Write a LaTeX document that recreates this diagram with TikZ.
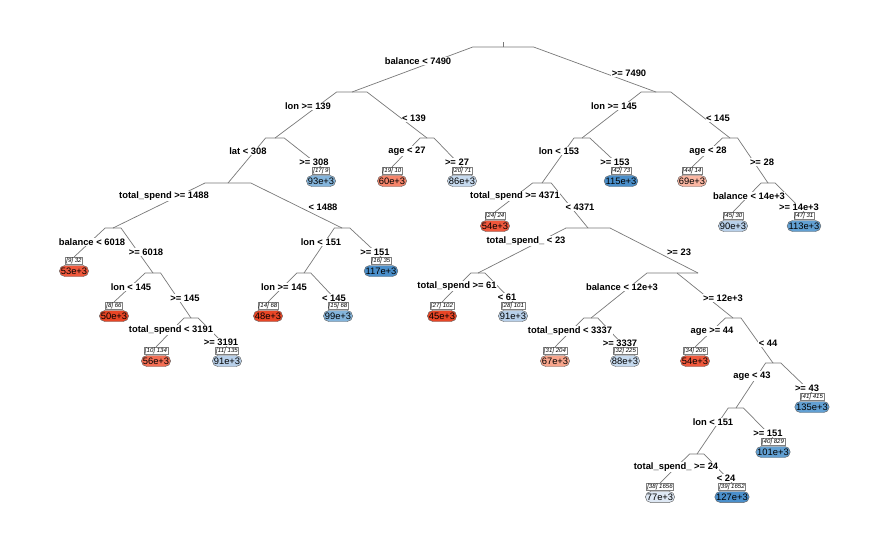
\documentclass[tikz,border=0pt]{standalone}
\usepackage{fontspec}
\setmainfont{Liberation Sans}
\usetikzlibrary{calc}
\definecolor{branchgrey}{RGB}{120,120,120}
\definecolor{red1}{RGB}{233,70,38}
\definecolor{red2}{RGB}{239,88,60}
\definecolor{red3}{RGB}{243,110,84}
\definecolor{red4}{RGB}{245,132,106}
\definecolor{red5}{RGB}{248,165,140}
\definecolor{red6}{RGB}{250,182,162}
\definecolor{blue1}{RGB}{222,232,244}
\definecolor{blue2}{RGB}{198,218,239}
\definecolor{blue3}{RGB}{184,208,234}
\definecolor{blue4}{RGB}{132,181,220}
\definecolor{blue5}{RGB}{98,160,211}
\definecolor{blue6}{RGB}{74,143,203}

\begin{document}
\begin{tikzpicture}[x=0.03cm, y=-0.03cm,
  branch/.style={draw=branchgrey, line width=0.6pt},
  split/.style={fill=white, inner sep=0.4pt, font=\bfseries\fontsize{8}{9}\selectfont},
  numbox/.style={draw=gray, fill=white, inner xsep=0.8pt, inner ysep=0.4pt,
                 font=\itshape\fontsize{5.2}{6}\selectfont},
  leaf/.style={draw=gray!80!black, rounded corners=4.6pt, minimum height=9.4pt,
               inner xsep=1.2pt, inner ysep=0pt, font=\fontsize{8}{9}\selectfont}]
  \useasboundingbox (0,0) rectangle (889,549);
  % split points
  \foreach \n/\x/\y in {root/503/47, lon139/352/92, lon145/656/92,
      lat308/275/138, age27/427/138, lon153/582/138, age28/730/138,
      ts1488/228/183, ts4371/542/183, bal14/768/183,
      bal6018/113/228, lon151/342/228, tsu23/588/228,
      lon145b/153/273, lon145c/304/273, ts61/478/273, bal12/698/273,
      ts3191/191/318, ts3337/591/318, age44/733/318,
      age43/773/363, lon151b/736/408, tsu24/697/454}
    \coordinate (\n) at (\x,\y);
  \coordinate (top) at (503,42);
  \coordinate (bal12l) at (647,273);
  \coordinate (bal12r) at (677,273);
  % leaf tops
  \foreach \n/\x/\y in {17/321/181, 19/392/181, 20/462/181, 42/621/181, 44/692/181,
      24/495/226, 45/733/226, 47/804/226, 9/74/271, 16/381/271,
      8/114/316, 14/268/316, 15/338/316, 27/442/316, 28/513/316,
      10/156/361, 11/227/361, 31/555/361, 32/625/361, 34/695/361,
      41/812/407, 40/773/452, 38/660/497, 39/732/497}
    \coordinate (t\n) at (\x,\y-14);
  % branches
  \draw[branch] (top) -- (root);
  \foreach \a/\b in {root/lon139, root/lon145, lon139/lat308, lon139/age27,
      lon145/lon153, lon145/age28, lat308/ts1488, lat308/t17, age27/t19, age27/t20,
      lon153/ts4371, lon153/t42, age28/t44, age28/bal14,
      ts1488/bal6018, ts1488/lon151, ts4371/t24, ts4371/tsu23, bal14/t45, bal14/t47,
      bal6018/t9, bal6018/lon145b, lon151/lon145c, lon151/t16, tsu23/ts61, tsu23/bal12,
      lon145b/t8, lon145b/ts3191, lon145c/t14, lon145c/t15, ts61/t27, ts61/t28,
      ts3191/t10, ts3191/t11, ts3337/t31, ts3337/t32,
      age44/t34, age44/age43, age43/lon151b, age43/t41,
      lon151b/tsu24, lon151b/t40, tsu24/t38, tsu24/t39}
    \draw[branch] (\a) -- ($(\a)!0.2!(\b |- \a)$) -- (\b);
  \draw[branch] (ts3337) -- (bal12l) -- (bal12);
  \draw[branch] (bal12r) -- (age44);
  % split labels
  \foreach \x/\y/\t [count=\i] in {418/61/balance < 7490, 629/73/>= 7490,
      308/106/lon >= 139, 414/118/< 139, 614/106/lon >= 145, 718/118/< 145,
      248/151/lat < 308, 314/162/>= 308, 407/151/age < 27, 457/162/>= 27,
      559/151/lon < 153, 615/162/>= 153, 708/151/age < 28, 762/162/>= 28,
      164/196/total\_spend >= 1488, 323/207/< 1488,
      515/196/total\_spend >= 4371, 580/207/< 4371,
      749/196/balance < 14e+3, 799/207/>= 14e+3,
      92/242/balance < 6018, 146/252/>= 6018, 321/242/lon < 151, 375/252/>= 151,
      526/241/total\_spend\_ < 23, 679/252/>= 23,
      131/287/lon < 145, 185/298/>= 145, 284/287/lon >= 145, 334/298/< 145,
      457/286/total\_spend >= 61, 507/297/< 61,
      622/287/balance < 12e+3, 723/298/>= 12e+3,
      171/330/total\_spend < 3191, 221/342/>= 3191,
      570/331/total\_spend < 3337, 620/343/>= 3337,
      712/331/age >= 44, 768/343/< 44, 752/376/age < 43, 807/388/>= 43,
      713/422/lon < 151, 768/433/>= 151,
      676/467/total\_spend\_ >= 24, 726/478/< 24}
    \node[split] (s\i) at (\x,\y) {\t};
  % leaves
  \foreach \n/\x/\y/\col/\v/\k in {17/321/181/blue4/93e+3/9, 19/392/181/red4/60e+3/10,
      20/462/181/blue2/86e+3/71, 42/621/181/blue6/115e+3/73, 44/692/181/red6/69e+3/14,
      24/495/226/red2/54e+3/24, 45/733/226/blue3/90e+3/30, 47/804/226/blue5/113e+3/31,
      9/74/271/red2/53e+3/32, 16/381/271/blue6/117e+3/35,
      8/114/316/red1/50e+3/66, 14/268/316/red1/48e+3/68, 15/338/316/blue4/99e+3/68,
      27/442/316/red1/45e+3/102, 28/513/316/blue3/91e+3/101,
      10/156/361/red3/56e+3/134, 11/227/361/blue3/91e+3/135, 31/555/361/red5/67e+3/204,
      32/625/361/blue2/88e+3/225, 34/695/361/red2/54e+3/206,
      41/812/407/blue5/135e+3/415, 40/773/452/blue5/101e+3/829,
      38/660/497/blue1/77e+3/1656, 39/732/497/blue6/127e+3/1652} {
    \node[numbox] (n\n) at (\x,\y-10.5) {[\n] \k};
    \node[leaf, fill=\col] (e\n) at (\x,\y) {\v};
  }
\end{tikzpicture}
\end{document}
